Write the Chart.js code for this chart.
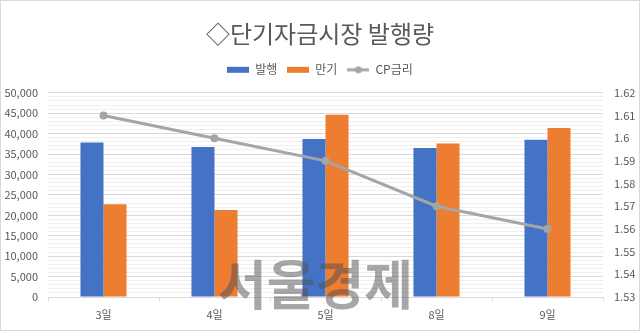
<!DOCTYPE html>
<html lang="ko">
<head>
<meta charset="utf-8">
<script src="https://cdn.jsdelivr.net/npm/chart.js@4"></script>
<style>
  html, body { margin: 0; padding: 0; background: #fff; }
  #wrap { width: 640px; height: 331px; }
</style>
</head>
<body>
<div id="wrap"><canvas id="chart" width="640" height="331"></canvas></div>
<script>
const days = ['3일', '4일', '5일', '8일', '9일'];
const issued = [37800, 36700, 38700, 36500, 38500];
const matured = [22700, 21300, 44600, 37600, 41400];
const cpRate = [1.61, 1.60, 1.59, 1.57, 1.56];

const FONT = "'Noto Sans CJK KR', 'Noto Sans', sans-serif";
const TEXT = '#595959';

// legend swatches as little canvases
function swatch(draw) {
  const c = document.createElement('canvas');
  c.width = 22; c.height = 8;
  draw(c.getContext('2d'));
  return c;
}
const swatches = {
  '발행': swatch(g => { g.fillStyle = '#4472c4'; g.fillRect(0, 1, 22, 6); }),
  '만기': swatch(g => { g.fillStyle = '#ed7d31'; g.fillRect(0, 1, 22, 6); }),
  'CP금리': swatch(g => {
    g.strokeStyle = '#a5a5a5'; g.lineWidth = 3;
    g.beginPath(); g.moveTo(0, 4); g.lineTo(22, 4); g.stroke();
    g.fillStyle = '#a5a5a5';
    g.beginPath(); g.arc(11, 4, 3.5, 0, Math.PI * 2); g.fill();
  })
};
const legendOrder = ['발행', '만기', 'CP금리'];

const extras = {
  id: 'extras',
  afterInit(chart) {
    // a bit more room between legend and plot
    const fit = chart.legend.fit;
    chart.legend.fit = function () { fit.call(this); this.height += 7; };
  },
  afterDraw(chart) {
    const ctx = chart.ctx;
    ctx.save();
    ctx.font = 'bold 53px ' + FONT;
    ctx.fillStyle = 'rgba(80,80,80,0.5)';
    ctx.textBaseline = 'middle';
    ctx.fillText('서울경제', 218, 285);
    ctx.strokeStyle = '#d9d9d9';
    ctx.lineWidth = 1;
    ctx.strokeRect(0.5, 0.5, 639, 330);
    ctx.restore();
  }
};

new Chart(document.getElementById('chart'), {
  data: {
    labels: days,
    datasets: [
      {
        type: 'line', label: 'CP금리', data: cpRate, yAxisID: 'y1',
        borderColor: '#a5a5a5', backgroundColor: '#a5a5a5',
        borderWidth: 3, pointRadius: 4, pointBorderWidth: 0, order: 0
      },
      {
        type: 'bar', label: '발행', data: issued, yAxisID: 'y',
        backgroundColor: '#4472c4',
        barPercentage: 1, categoryPercentage: 0.415, order: 1
      },
      {
        type: 'bar', label: '만기', data: matured, yAxisID: 'y',
        backgroundColor: '#ed7d31',
        barPercentage: 1, categoryPercentage: 0.415, order: 1
      }
    ]
  },
  options: {
    responsive: false,
    animation: false,
    layout: { padding: 0 },
    plugins: {
      title: {
        display: true, text: '◇단기자금시장 발행량', color: TEXT,
        font: { family: FONT, size: 24, weight: 'normal' },
        padding: { top: 19, bottom: 6 }
      },
      legend: {
        labels: {
          usePointStyle: true, pointStyleWidth: 22,
          color: TEXT, font: { family: FONT, size: 12 },
          padding: 10,
          sort: (a, b) => legendOrder.indexOf(a.text) - legendOrder.indexOf(b.text),
          generateLabels(chart) {
            const items = Chart.defaults.plugins.legend.labels.generateLabels(chart);
            items.forEach(it => { it.pointStyle = swatches[it.text]; });
            return items;
          }
        }
      },
      tooltip: { enabled: false }
    },
    scales: {
      x: {
        offset: true,
        grid: { offset: true, drawOnChartArea: false, tickLength: 4, color: '#d9d9d9' },
        border: { color: '#d9d9d9' },
        ticks: { color: TEXT, font: { family: FONT, size: 11 }, padding: 7 },
        afterFit(s) { s.height = 34; }
      },
      y: {
        position: 'left', min: 0, max: 50000,
        ticks: {
          stepSize: 1000, autoSkip: false, color: TEXT,
          font: { family: FONT, size: 11 }, padding: 10,
          callback: v => v % 5000 === 0 ? v.toLocaleString('en-US') : ''
        },
        grid: {
          drawTicks: false,
          color: c => c.tick && c.tick.value % 5000 === 0 ? '#d9d9d9' : '#efefef'
        },
        border: { display: false },
        afterFit(s) { s.width = 48; }
      },
      y1: {
        position: 'right', min: 1.53, max: 1.62,
        ticks: {
          stepSize: 0.01, color: TEXT, font: { family: FONT, size: 11 }, padding: 11,
          callback: v => String(+v.toFixed(2))
        },
        grid: { drawOnChartArea: false, drawTicks: false },
        border: { display: false },
        afterFit(s) { s.width = 37; }
      }
    }
  },
  plugins: [extras]
});
</script>
</body>
</html>
